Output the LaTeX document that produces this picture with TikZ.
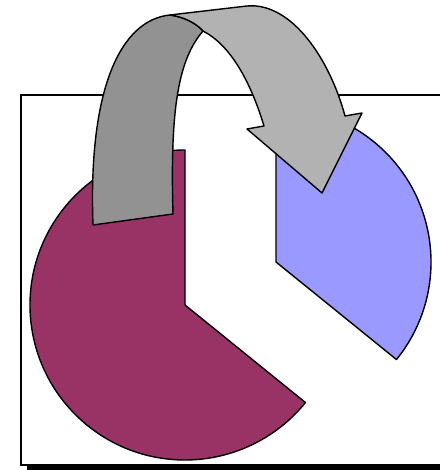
\documentclass[tikz,border=0pt]{standalone}
\usepackage{xcolor}
\usepackage{tikz}
\definecolor{slicemaroon}{RGB}{153,51,102}
\definecolor{sliceblue}{RGB}{153,153,255}
\definecolor{ribbondark}{RGB}{146,146,146}
\definecolor{ribbonlight}{RGB}{178,178,178}

\begin{document}
\begin{tikzpicture}[x=1pt,y=1pt,
    outline/.style={draw=black,line width=1.4pt,line join=round}]
    \useasboundingbox (0,0) rectangle (440,470);

    % Frame with shadow
    \fill[black] (27,0) rectangle (440,4);
    \draw[line width=1.4pt] (440,375) -- (21,375) -- (21,5) -- (440,5);

    % Pie slices
    \coordinate (c1) at (185,165);
    \coordinate (c2) at (276,208);
    \filldraw[outline,fill=slicemaroon] (c1) -- ++(0,155) arc[start angle=90,end angle=321,radius=155] -- cycle;
    \filldraw[outline,fill=sliceblue] (c2) -- ++(-39:155) arc[start angle=-39,end angle=90,radius=155] -- cycle;

    % Curved arrow, back face
    \filldraw[outline,fill=ribbondark] (93,245) .. controls (88,380) and (120,450) .. (170,455)
        .. controls (185,453) and (197,446) .. (203,439)
        .. controls (178,410) and (170,360) .. (173,256) -- cycle;

    % Curved arrow, front face with head
    \filldraw[outline,fill=ribbonlight] (170,455) -- (247,464)
        .. controls (292,468) and (330,410) .. (345,354)
        -- (362,357) -- (322,277) -- (247,341) -- (264,344)
        .. controls (250,390) and (230,425) .. (203,439)
        .. controls (197,446) and (185,453) .. (170,455) -- cycle;
\end{tikzpicture}
\end{document}
